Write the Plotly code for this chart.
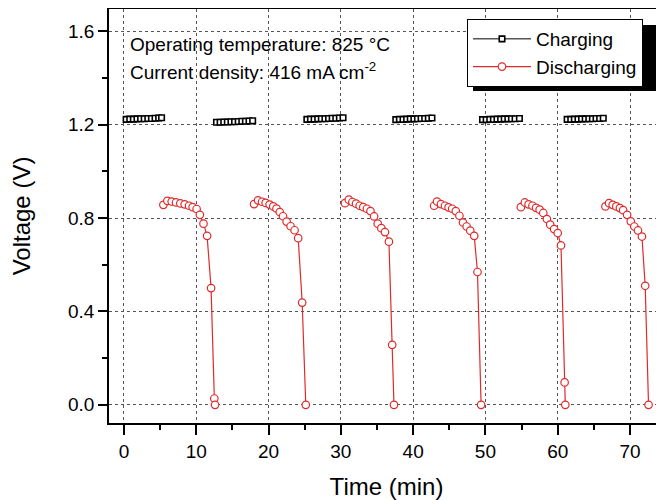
import plotly.graph_objects as go

# ---------------- data ----------------
charge_t = [
    [0.3, 0.8, 1.3, 1.8, 2.3, 2.8, 3.3, 3.8, 4.3, 4.8, 5.2],
    [12.8, 13.3, 13.8, 14.3, 14.8, 15.3, 15.8, 16.3, 16.8, 17.3, 17.8],
    [25.3, 25.8, 26.3, 26.8, 27.3, 27.8, 28.3, 28.8, 29.3, 29.8, 30.3],
    [37.6, 38.1, 38.6, 39.1, 39.6, 40.1, 40.6, 41.1, 41.6, 42.1, 42.6],
    [49.6, 50.1, 50.6, 51.1, 51.6, 52.1, 52.6, 53.1, 53.6, 54.1, 54.7],
    [61.3, 61.8, 62.3, 62.8, 63.3, 63.8, 64.3, 64.8, 65.3, 65.8, 66.3],
]
charge_v = [
    [1.223, 1.224, 1.224, 1.225, 1.226, 1.226, 1.227, 1.227, 1.228, 1.229, 1.230],
    [1.211, 1.211, 1.212, 1.212, 1.213, 1.213, 1.214, 1.215, 1.215, 1.216, 1.217],
    [1.223, 1.224, 1.224, 1.225, 1.226, 1.226, 1.227, 1.228, 1.228, 1.229, 1.230],
    [1.222, 1.223, 1.223, 1.224, 1.225, 1.225, 1.226, 1.227, 1.227, 1.228, 1.229],
    [1.222, 1.222, 1.223, 1.223, 1.224, 1.224, 1.225, 1.225, 1.226, 1.226, 1.227],
    [1.223, 1.223, 1.224, 1.224, 1.225, 1.225, 1.226, 1.226, 1.227, 1.227, 1.228],
]

dis_t = [
    [5.45, 6.0, 6.6, 7.2, 7.8, 8.4, 9.0, 9.5, 10.05, 10.5, 11.0, 11.5, 12.05, 12.5, 12.6],
    [18.0, 18.55, 19.1, 19.6, 20.15, 20.65, 21.1, 21.55, 22.0, 22.5, 23.05, 23.6, 24.1, 24.65, 25.15],
    [30.57, 31.1, 31.6, 32.1, 32.6, 33.1, 33.6, 34.1, 34.6, 35.1, 35.6, 36.1, 36.65, 37.1, 37.35],
    [42.9, 43.3, 43.85, 44.4, 44.9, 45.4, 45.9, 46.4, 46.9, 47.4, 47.9, 48.45, 48.9, 49.4],
    [54.9, 55.45, 55.97, 56.5, 57.0, 57.5, 58.0, 58.5, 58.96, 59.5, 60.0, 60.45, 60.95, 61.05],
    [66.6, 67.1, 67.6, 68.1, 68.6, 69.05, 69.6, 70.1, 70.6, 71.1, 71.65, 72.1, 72.56],
]
dis_v = [
    [0.857, 0.874, 0.871, 0.867, 0.863, 0.859, 0.853, 0.847, 0.839, 0.814, 0.776, 0.724, 0.500, 0.027, 0.0],
    [0.860, 0.876, 0.870, 0.865, 0.858, 0.850, 0.841, 0.826, 0.808, 0.785, 0.765, 0.748, 0.714, 0.438, 0.0],
    [0.864, 0.879, 0.869, 0.862, 0.853, 0.847, 0.840, 0.830, 0.807, 0.776, 0.757, 0.740, 0.699, 0.257, 0.0],
    [0.853, 0.871, 0.860, 0.853, 0.846, 0.840, 0.830, 0.810, 0.781, 0.764, 0.746, 0.724, 0.569, 0.0],
    [0.847, 0.867, 0.859, 0.853, 0.844, 0.836, 0.822, 0.796, 0.772, 0.753, 0.736, 0.683, 0.096, 0.0],
    [0.850, 0.864, 0.857, 0.850, 0.843, 0.834, 0.814, 0.786, 0.764, 0.747, 0.721, 0.510, 0.0],
]

x_ticks = [0, 10, 20, 30, 40, 50, 60, 70]
y_ticks = [0.0, 0.4, 0.8, 1.2, 1.6]
y_labels = ["0.0", "0.4", "0.8", "1.2", "1.6"]


def join(segs):
    out = []
    for i, s in enumerate(segs):
        if i:
            out.append(None)
        out.extend(s)
    return out


FONT = "Liberation Sans, Arial, sans-serif"
RED = "#e02a2a"

fig = go.Figure()
fig.add_trace(go.Scatter(
    x=join(charge_t), y=join(charge_v), mode="lines+markers", name="Charging",
    line=dict(color="black", width=1),
    marker=dict(symbol="square", size=5.5, color="white", line=dict(color="black", width=1.6)),
))
fig.add_trace(go.Scatter(
    x=join(dis_t), y=join(dis_v), mode="lines+markers", name="Discharging",
    line=dict(color=RED, width=1.2),
    marker=dict(symbol="circle", size=7.5, color="white", line=dict(color=RED, width=1.2)),
))

# page has an 8px body margin; figure sized to fill the rest of the window
OFF = 8
W, H = 664 - OFF, 500 - OFF
P_L, P_T, P_R, P_B = 109, 9, 664, 423          # plot area in window pixels
ML, MT, MR, MB = P_L - OFF, P_T - OFF, 0, H - (P_B - OFF)
PW, PH = P_R - P_L, P_B - P_T


def px(xp):
    return (xp - P_L) / PW


def py(yp):
    return (P_B - yp) / PH


grid = dict(showgrid=True, gridcolor="#555555", griddash="dot", gridwidth=1)

fig.update_layout(
    width=W, height=H,
    margin=dict(l=ML, r=MR, t=MT, b=MB, autoexpand=False),
    paper_bgcolor="white", plot_bgcolor="white",
    font=dict(family=FONT, color="black", size=19),
    xaxis=dict(
        range=[-2.07, 74.7], tickvals=x_ticks, ticks="outside", ticklen=10, tickwidth=1.6,
        tickcolor="black", showline=True, linecolor="black", linewidth=1.8, mirror=True,
        zeroline=False, tickfont=dict(size=19),
        minor=dict(ticks="outside", ticklen=5, tickwidth=1.6, tickcolor="black", dtick=5, tick0=0, showgrid=False),
        title=dict(text="Time (min)", font=dict(size=24), standoff=19),
        **grid,
    ),
    yaxis=dict(
        range=[-0.078, 1.696], tickvals=y_ticks, ticktext=y_labels, ticks="outside", ticklen=9,
        tickwidth=1.6, tickcolor="black", showline=True, linecolor="black", linewidth=1.8,
        mirror=False, zeroline=False, tickfont=dict(size=19),
        minor=dict(ticks="outside", ticklen=5, tickwidth=1.6, tickcolor="black", dtick=0.2, tick0=0, showgrid=False),
        title=dict(text="Voltage (V)", font=dict(size=24), standoff=34),
        **grid,
    ),
    legend=dict(
        x=px(467), y=py(19), xanchor="left", yanchor="top",
        bgcolor="white", bordercolor="black", borderwidth=1,
        font=dict(size=19), itemwidth=58, tracegroupgap=0,
    ),
    showlegend=True,
)

# legend drop shadow
fig.add_shape(type="rect", xref="paper", yref="paper",
              x0=px(473), x1=px(659), y0=py(91), y1=py(25),
              fillcolor="black", line=dict(width=0), layer="above")

fig.add_annotation(x=px(128), y=py(44), xref="paper", yref="paper", xanchor="left", yanchor="middle",
                   text="Operating temperature: 825 °C", showarrow=False, font=dict(size=19))
fig.add_annotation(x=px(128), y=py(71), xref="paper", yref="paper", xanchor="left", yanchor="middle",
                   text="Current density: 416 mA cm<sup>-2</sup>", showarrow=False, font=dict(size=19))

fig.write_html("out.html")
